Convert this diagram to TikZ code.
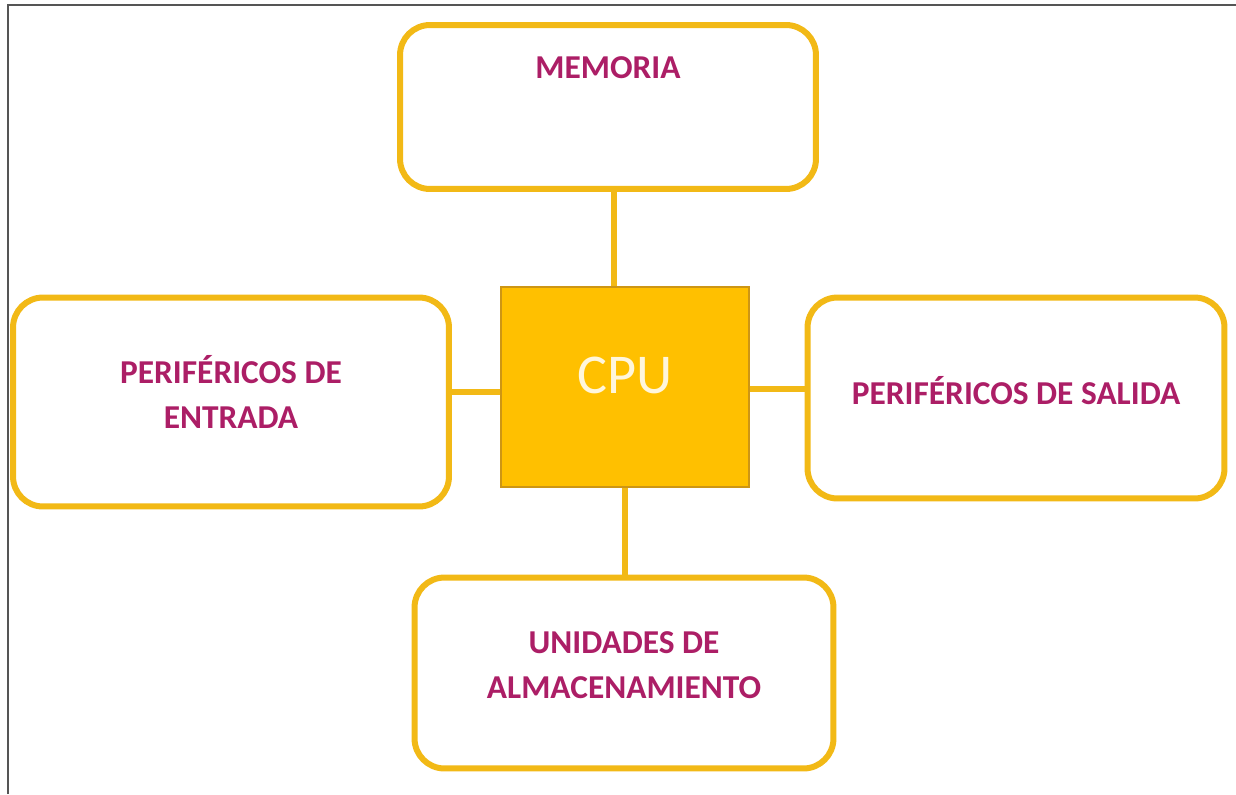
\documentclass[tikz,border=0pt]{standalone}
\usepackage{fontspec}
\setmainfont{Carlito}
\usepackage{tikz}

\definecolor{gold}{RGB}{242,185,22}
\definecolor{cpuorange}{RGB}{255,192,0}
\definecolor{cpuedge}{RGB}{205,150,20}
\definecolor{plum}{RGB}{172,30,102}
\definecolor{cream}{RGB}{255,246,220}
\definecolor{framegray}{RGB}{85,85,85}

\newcommand{\textlift}[1]{\rule[-#1]{0pt}{#1}}

\tikzset{
  box/.style={rectangle, rounded corners=0.6cm, draw=gold, line width=0.12cm, fill=white,
    inner sep=0pt, align=center, text=plum, font=\fontsize{19}{25.5}\selectfont\bfseries},
  cpubox/.style={rectangle, draw=cpuedge, line width=0.8pt, fill=cpuorange,
    minimum width=4.96cm, minimum height=4cm, inner sep=0pt, text=cream,
    font=\fontsize{32}{38}\selectfont, text height=0.72cm, text depth=0.48cm},
  link/.style={draw=gold, line width=0.12cm},
}

\begin{document}
\begin{tikzpicture}[x=0.02cm, y=-0.02cm]
\useasboundingbox (0,0) rectangle (1236,794);
\draw[framegray, line width=0.04cm] (8,794) |- (1236,5);

\node (cpu) at (625,387) [cpubox] {CPU};

\node (mem) at (608,107) [box, minimum width=8.32cm, minimum height=3.28cm,
  text height=0.5cm, text depth=1.66cm] {MEMORIA};
\node (ent) at (231,402) [box, minimum width=8.72cm, minimum height=4.18cm] {PERIFÉRICOS DE\\ENTRADA\textlift{0.4cm}};
\node (sal) at (1016,398) [box, minimum width=8.34cm, minimum height=4.02cm] {PERIFÉRICOS DE SALIDA\textlift{0.32cm}};
\node (alm) at (624,673) [box, minimum width=8.38cm, minimum height=3.82cm] {UNIDADES DE\\ALMACENAMIENTO\textlift{0.32cm}};

\draw[link] ([xshift=0.12cm]mem.south) -- ([xshift=0.12cm]mem.south |- cpu.north);
\draw[link] (cpu.south) -- (cpu.south |- alm.north);
\draw[link] ([yshift=-0.1cm]cpu.west) -- ([yshift=-0.1cm]cpu.west -| ent.east);
\draw[link] ([yshift=-0.04cm]cpu.east) -- ([yshift=-0.04cm]cpu.east -| sal.west);
\end{tikzpicture}
\end{document}
